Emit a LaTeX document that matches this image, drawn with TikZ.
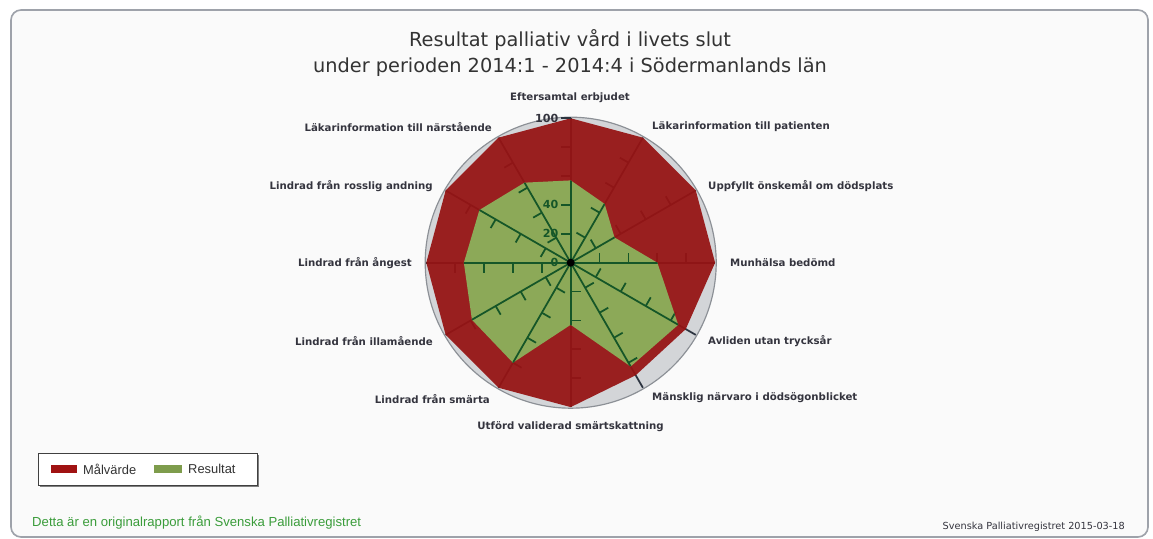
\documentclass[tikz,border=0pt]{standalone}
\usepackage{fontspec}
\setmainfont{DejaVu Sans}
\newfontfamily\arialfont{Liberation Sans}
\definecolor{malred}{HTML}{961414}
\definecolor{resgreen}{HTML}{8CA958}
\definecolor{axisgreen}{HTML}{155628}
\definecolor{axisdark}{HTML}{2C3440}
\definecolor{discgrey}{HTML}{D3D5D8}
\definecolor{rimgrey}{HTML}{8C9096}
\definecolor{labelgrey}{HTML}{34343E}
\definecolor{footgreen}{HTML}{3A9C3A}
\definecolor{framegrey}{HTML}{9EA2AA}
\definecolor{legred}{HTML}{A01212}
\definecolor{leggreen}{HTML}{7E9C4C}

% spokes and ticks of the chart, drawn twice
\newcommand\spokes[1]{%
  \foreach \a in {90,60,...,-240} {
    \draw[#1] (0,0) -- (\a:144.4);
    \foreach \v in {20,40,60,80}
      \draw[#1] (\a:{1.444*\v}) -- ++({\a+90}:10);
  }}
\newcommand\resultpoly{(90:82.3)
  \foreach \v [count=\i] in {47,35,60,86,83,43,80,79,74,73,64} { -- ({90-30*\i}:{1.444*\v}) } -- cycle}

\begin{document}
\begin{tikzpicture}[x=0.03cm,y=0.03cm,
    axislbl/.style={font=\bfseries\fontsize{8.7}{10}\selectfont, text=labelgrey, inner sep=0pt},
    ticklbl/.style={font=\bfseries\fontsize{9.5}{10}\selectfont, inner sep=0pt, anchor=east},
    leglbl/.style={font=\arialfont\fontsize{11}{12}\selectfont, text=black!80, inner sep=0pt, anchor=west}]
\useasboundingbox (0,0) rectangle (1153,539);
\fill[white] (0,0) rectangle (1153,539);
\draw[framegrey, line width=1.4pt, rounded corners=0.3cm, fill=black!2] (11,2) rectangle (1148,529);

% title
\node[font=\fontsize{16.5}{19}\selectfont, text=black!80] (title1) at (570,499) {Resultat palliativ vård i livets slut};
\node[font=\fontsize{16.5}{19}\selectfont, text=black!80] (title2) at (570,472) {under perioden 2014:1 - 2014:4 i Södermanlands län};

% radar chart
\begin{scope}[shift={(570.7,276.3)}]
  \filldraw[fill=discgrey, draw=rimgrey, line width=1pt] (0,0) circle (145.5);
  \spokes{axisdark, line width=1.5pt}
  \fill[malred, fill opacity=0.94] (90:144.4)
    \foreach \v [count=\i] in {100,100,100,92,90,100,100,100,100,100,100} { -- ({90-30*\i}:{1.444*\v}) } -- cycle;
  \fill[resgreen] \resultpoly;
  \begin{scope}
    \clip \resultpoly;
    \spokes{axisgreen, line width=1.5pt}
  \end{scope}
  \draw[axisdark, line width=1.5pt] (0,144.4) -- ++(-10,0);
  \fill[black] (0,0) circle (4);
  \node[ticklbl, text=axisgreen] (v0) at (-12,0) {0};
  \node[ticklbl, text=axisgreen] (v20) at (-12,28.9) {20};
  \node[ticklbl, text=axisgreen] (v40) at (-12,57.8) {40};
  \node[ticklbl, text=labelgrey] (v100) at (-12,144.4) {100};
\end{scope}

% axis labels
\node[axislbl] (eftersamtal) at (570,441) {Eftersamtal erbjudet};
\node[axislbl, anchor=west] (lakpatient) at (652,412) {Läkarinformation till patienten};
\node[axislbl, anchor=west] (dodsplats) at (708,353) {Uppfyllt önskemål om dödsplats};
\node[axislbl, anchor=west] (munhalsa) at (730,276) {Munhälsa bedömd};
\node[axislbl, anchor=west] (trycksar) at (708,198) {Avliden utan trycksår};
\node[axislbl, anchor=west] (narvaro) at (652,141) {Mänsklig närvaro i dödsögonblicket};
\node[axislbl] (smartskattning) at (570.5,112) {Utförd validerad smärtskattning};
\node[axislbl, anchor=east] (smarta) at (490,140) {Lindrad från smärta};
\node[axislbl, anchor=east] (illamaende) at (433,198) {Lindrad från illamående};
\node[axislbl, anchor=east] (angest) at (412,276) {Lindrad från ångest};
\node[axislbl, anchor=east] (rosslig) at (433,353) {Lindrad från rosslig andning};
\node[axislbl, anchor=east] (laknarstaende) at (492,412) {Läkarinformation till närstående};

% legend
\fill[black!50] (40,52) rectangle (259,84);
\filldraw[fill=white, draw=black!75, line width=0.8pt] (38,54) rectangle (257,86);
\fill[legred] (51,66) rectangle (77,74);
\node[leglbl] (malvarde) at (83,70) {Målvärde};
\fill[leggreen] (154,66) rectangle (182,74);
\node[leglbl] (resultat) at (188,70) {Resultat};

% footers
\node[font=\arialfont\fontsize{11.2}{13}\selectfont, text=footgreen, anchor=west, inner sep=0pt] (orig) at (32,16) {Detta är en originalrapport från Svenska Palliativregistret};
\node[font=\fontsize{8.3}{9}\selectfont, text=labelgrey, anchor=east, inner sep=0pt] (datum) at (1125,12) {Svenska Palliativregistret 2015-03-18};
\end{tikzpicture}
\end{document}
